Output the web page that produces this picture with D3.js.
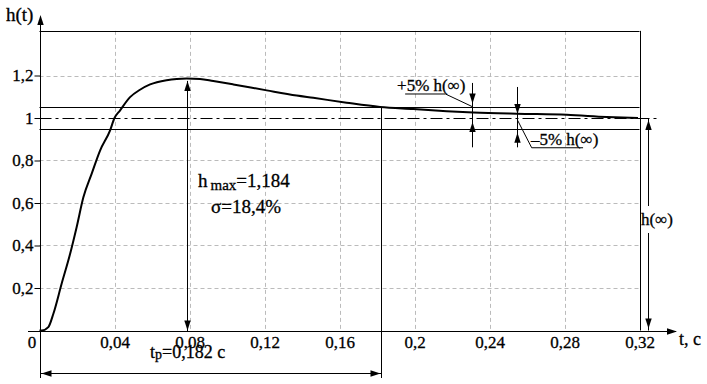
<!DOCTYPE html>
<html><head><meta charset="utf-8">
<script src="https://cdn.jsdelivr.net/npm/d3@7/dist/d3.min.js"></script>
<style>
html,body{margin:0;padding:0;background:#fff;}
</style></head>
<body><svg id="c" width="707" height="384"></svg>
<script>
// ---- data ----
const tTicks = [0, 0.04, 0.08, 0.12, 0.16, 0.2, 0.24, 0.28, 0.32];
const tLabels = ["0", "0,04", "0,08", "0,12", "0,16", "0,2", "0,24", "0,28", "0,32"];
const hTicks = [0.2, 0.4, 0.6, 0.8, 1, 1.2];
const hLabels = ["0,2", "0,4", "0,6", "0,8", "1", "1,2"];
const tValues = [0, 0.0012, 0.0047, 0.0074, 0.0118, 0.0163, 0.0198, 0.0234, 0.0278, 0.0323, 0.0376, 0.04,
  0.0429, 0.0483, 0.0536, 0.059, 0.0678, 0.0732, 0.0785, 0.0856, 0.0927, 0.1034, 0.1212, 0.1372, 0.146,
  0.1638, 0.1816, 0.1994, 0.2172, 0.2314, 0.2545, 0.2812, 0.3025, 0.3192];
const hValues = [0, 0, 0.016, 0.079, 0.22, 0.36, 0.486, 0.627, 0.737, 0.847, 0.941, 1.0,
  1.035, 1.098, 1.133, 1.158, 1.178, 1.184, 1.186, 1.184, 1.174, 1.158, 1.13, 1.106, 1.095,
  1.072, 1.052, 1.042, 1.032, 1.026, 1.02, 1.015, 1.005, 1.0];
const hTop = 1.41;
const hInf = 1, band = 0.05;
const tp = 0.182, tMax = 0.0785, hMax = 1.184;
const tPlus = 0.2305, tMinus = 0.2545, tInfArrow = 0.3245;

const FONT = '"Liberation Serif", "Times New Roman", serif';

// ---- scales ----
const svg = d3.select("#c");
const x = d3.scaleLinear().domain([0, 0.32]).range([39.5, 639.5]);
const y = d3.scaleLinear().domain([0, 1.2]).range([330.5, 75.5]);

const g = svg.append("g");

// grid
g.selectAll(".gv").data(tTicks.filter(t => t > 0 && t < 0.32)).join("line")
  .attr("x1", d => Math.round(x(d)) + 0.5).attr("x2", d => Math.round(x(d)) + 0.5)
  .attr("y1", y(hTop)).attr("y2", y(0))
  .attr("stroke", "#bbb").attr("stroke-dasharray", "4,3");
g.selectAll(".gh").data(hTicks.filter(h => h !== 1)).join("line")
  .attr("x1", x(0)).attr("x2", x(0.32))
  .attr("y1", d => Math.round(y(d)) + 0.5).attr("y2", d => Math.round(y(d)) + 0.5)
  .attr("stroke", "#bbb").attr("stroke-dasharray", "4,3");

function hl(t1, t2, h) {
  const yy = Math.round(y(h)) + 0.5;
  return g.append("line").attr("x1", x(t1)).attr("x2", x(t2)).attr("y1", yy).attr("y2", yy)
    .attr("stroke", "#000").attr("stroke-width", 1);
}
function vl(t, y1, y2) {
  const xx = Math.round(x(t)) + 0.5;
  return g.append("line").attr("x1", xx).attr("x2", xx).attr("y1", y1).attr("y2", y2)
    .attr("stroke", "#000").attr("stroke-width", 1);
}
function arrow(px, py, dir) {
  const L = 10, w = 3.2;
  let pts;
  if (dir === "up") pts = [[px, py], [px - w, py + L], [px + w, py + L]];
  if (dir === "down") pts = [[px, py], [px - w, py - L], [px + w, py - L]];
  if (dir === "left") pts = [[px, py], [px + L, py - w], [px + L, py + w]];
  if (dir === "right") pts = [[px, py], [px - L, py - w], [px - L, py + w]];
  g.append("path").attr("d", "M" + pts.map(p => p.join(",")).join("L") + "Z").attr("fill", "#000");
}
function styleText(sel) {
  return sel.style("font-family", FONT).attr("fill", "#000")
    .attr("stroke", "#000").attr("stroke-width", 0.3);
}
function txt(xp, yp, size, s) {
  const t = svg.append("text").attr("x", xp).attr("y", yp).attr("font-size", size);
  styleText(t);
  if (s !== null) t.text(s);
  return t;
}

// frame
hl(0, 0.32, hTop);
vl(0.32, y(hTop), y(0));
// band lines
hl(0, 0.32, hInf + band);
hl(0, 0.32, hInf - band);
// dash-dot at h(inf)
g.append("line").attr("x1", x(0)).attr("x2", x(0.3305))
  .attr("y1", Math.round(y(hInf)) + 0.5).attr("y2", Math.round(y(hInf)) + 0.5)
  .attr("stroke", "#000").attr("stroke-dasharray", "12,4,3,4");

// axes lines
const ax0 = Math.round(x(0)) + 0.5, ay0 = Math.round(y(0)) + 0.5;
g.append("line").attr("x1", 28).attr("x2", 676).attr("y1", ay0).attr("y2", ay0).attr("stroke", "#000");
arrow(677, ay0, "right");
g.append("line").attr("x1", ax0).attr("x2", ax0).attr("y1", 378).attr("y2", 17).attr("stroke", "#000");
arrow(ax0, 15, "up");

// axis ticks & labels
const xAxis = d3.axisBottom(x).tickValues(tTicks).tickSize(0).tickPadding(4)
  .tickFormat((d, i) => tLabels[i]);
const xa = svg.append("g").attr("transform", `translate(0,${ay0})`).call(xAxis).attr("font-size", 17);
xa.select(".domain").remove();
styleText(xa.selectAll("text")).attr("dx", (d, i) => i === 0 ? -8 : 0);

const yAxis = d3.axisLeft(y).tickValues(hTicks).tickSize(6).tickPadding(1)
  .tickFormat((d, i) => hLabels[i]);
const ya = svg.append("g").attr("transform", `translate(${ax0},0)`).call(yAxis).attr("font-size", 17);
ya.select(".domain").remove();
ya.selectAll("line").attr("stroke", "#000");
styleText(ya.selectAll("text"));

// axis titles
txt(6, 21, 19, "h(t)");
txt(679, 345, 18, "t, c");

// curve
const line = d3.line().x((d, i) => x(tValues[i])).y((d, i) => y(hValues[i])).curve(d3.curveMonotoneX);
g.append("path").datum(hValues).attr("d", line).attr("fill", "none").attr("stroke", "#000")
  .attr("stroke-width", 2).attr("stroke-linejoin", "round");

// tp line and dimension arrow
vl(tp, y(hInf + band), 378);
const tpx = Math.round(x(tp)) + 0.5;
g.append("line").attr("x1", ax0).attr("x2", tpx).attr("y1", 373.5).attr("y2", 373.5).attr("stroke", "#000");
arrow(ax0 + 1, 373.5, "left");
arrow(tpx - 1, 373.5, "right");
const tpText = txt(150, 358, 18, null);
tpText.append("tspan").text("t");
tpText.append("tspan").attr("font-size", 14).attr("dy", 1).text("p");
tpText.append("tspan").attr("dy", -1).text("=0,182 c");

// hmax arrow
const mx = Math.round(x(tMax)) + 0.5;
g.append("line").attr("x1", mx).attr("x2", mx).attr("y1", y(hMax) + 2).attr("y2", ay0).attr("stroke", "#000");
arrow(mx, y(hMax) + 2, "up");
arrow(mx, ay0 - 1, "down");
const hm = txt(198, 187, 19, null);
hm.append("tspan").text("h");
hm.append("tspan").attr("font-size", 15).attr("dx", 3).attr("dy", 3).text("max");
hm.append("tspan").attr("dy", -3).text("=1,184");
txt(211, 213, 19, "σ=18,4%");

// h(inf) arrow
const ix = Math.round(x(tInfArrow)) + 0.5;
g.append("line").attr("x1", ix).attr("x2", ix).attr("y1", y(hInf) + 1).attr("y2", ay0 - 1).attr("stroke", "#000");
arrow(ix, y(hInf) + 2, "up");
arrow(ix, ay0 - 3, "down");
svg.append("rect").attr("x", 641).attr("y", 206).attr("width", 34).attr("height", 27).attr("fill", "#fff");
txt(641, 225, 17, "h(∞)");

// +5% annotation
const px5 = Math.round(x(tPlus)) + 0.5;
g.append("line").attr("x1", px5).attr("x2", px5).attr("y1", y(1.165)).attr("y2", y(0.862)).attr("stroke", "#000");
arrow(px5, y(hInf + band) - 4, "down");
arrow(px5, y(hInf) + 4, "up");
g.append("path").attr("d", `M${x(0.195)},${y(1.113)}H${x(0.2165)}L${px5},${y(1.053)}`)
  .attr("fill", "none").attr("stroke", "#000");
txt(x(0.1907), y(1.127), 17, "+5% h(∞)");

// -5% annotation
const mx5 = Math.round(x(tMinus)) + 0.5;
g.append("line").attr("x1", mx5).attr("x2", mx5).attr("y1", y(1.146)).attr("y2", y(0.862)).attr("stroke", "#000");
arrow(mx5, y(hInf) - 4, "down");
arrow(mx5, y(hInf - band) + 4, "up");
g.append("path").attr("d", `M${mx5},${y(0.99)}L${x(0.2625)},${y(0.86)}H${x(0.2899)}`)
  .attr("fill", "none").attr("stroke", "#000");
txt(x(0.2621), y(0.873), 17, "–5% h(∞)");
</script></body></html>
